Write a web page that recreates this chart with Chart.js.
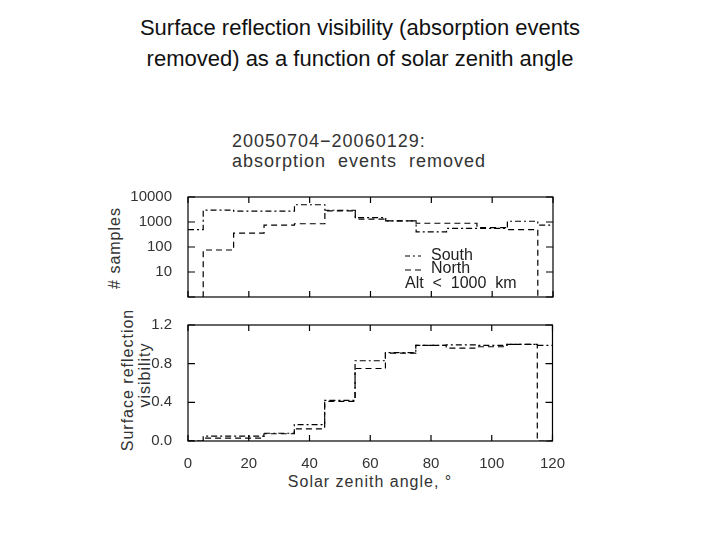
<!DOCTYPE html>
<html><head><meta charset="utf-8">
<script src="https://cdn.jsdelivr.net/npm/chart.js@4.4.0/dist/chart.umd.min.js"></script>
<style>
body{margin:0;width:720px;height:540px;background:#fff;position:relative;font-family:"Liberation Sans",Arial,sans-serif;overflow:hidden}
.t{position:absolute;white-space:nowrap;color:#111}
canvas{position:absolute}
</style></head><body>
<div class="t" style="left:0;width:720px;top:12px;text-align:center;font-size:22px;line-height:31px">Surface reflection visibility (absorption events<br>removed) as a function of solar zenith angle</div>
<div class="t" style="left:232px;top:131px;font-size:18px;line-height:20px;color:#333;letter-spacing:1px">20050704&minus;20060129:<br>absorption&nbsp; events&nbsp; removed</div>
<div class="t" style="left:115px;top:248px;font-size:16px;color:#333;transform:translate(-50%,-50%) rotate(-90deg);letter-spacing:1px"># samples</div>
<div class="t" style="left:128px;top:380px;font-size:16px;color:#333;transform:translate(-50%,-50%) rotate(-90deg);letter-spacing:1px">Surface reflection</div>
<div class="t" style="left:145px;top:375px;font-size:16px;color:#333;transform:translate(-50%,-50%) rotate(-90deg);letter-spacing:1px">visibility</div>
<div class="t" style="left:370px;top:482px;font-size:16px;color:#333;transform:translate(-50%,-50%);letter-spacing:1px">Solar zenith angle, &deg;</div>
<canvas id="c1" width="440" height="134" style="left:118px;top:180px;width:440px;height:134px"></canvas>
<canvas id="c2" width="453" height="163" style="left:118px;top:308px;width:453px;height:163px"></canvas>
<script>
const binEdges=[0,5,15,25,35,45,55,65,75,85,95,105,115,120];
const southCounts=[500,3000,2700,2700,4900,2950,1500,1100,400,560,560,1070,750];
const northCounts=[0.1,76,360,750,850,2800,1300,1100,890,890,600,500,0.1];
const southVis=[0.0,0.05,0.05,0.08,0.17,0.42,0.83,0.915,0.99,0.995,0.99,1.0,0.99];
const northVis=[0.0,0.03,0.03,0.075,0.125,0.41,0.75,0.91,0.99,0.96,0.975,1.0,0.0];
const xTicks=[0,20,40,60,80,100,120];
const countTicks=[1,10,100,1000,10000];
const visTicks=[0,0.2,0.4,0.6,0.8,1.0,1.2];

function steps(vals){const d=vals.map((v,i)=>({x:binEdges[i],y:v}));d.push({x:120,y:vals[vals.length-1]});return d;}
const font={family:"Liberation Sans",size:15};
const boxPlugin={id:'box',afterDraw(ch){const a=ch.chartArea,c=ch.ctx;c.save();c.strokeStyle='#000';c.lineWidth=1.2;c.strokeRect(a.left,a.top,a.right-a.left,a.bottom-a.top);
 const xs=ch.scales.x,ys=ch.scales.y;c.beginPath();
 xTicks.forEach(t=>{const p=xs.getPixelForValue(t);c.moveTo(p,a.bottom);c.lineTo(p,a.bottom-6);c.moveTo(p,a.top);c.lineTo(p,a.top+6);});
 ys.ticks.forEach(t=>{const p=ys.getPixelForValue(t.value);c.moveTo(a.left,p);c.lineTo(a.left+7,p);c.moveTo(a.right,p);c.lineTo(a.right-7,p);});
 c.stroke();
 if(ch.canvas.id==='c1'){c.fillStyle='#222';c.font='16px "Liberation Sans"';c.lineWidth=1;
  c.setLineDash([5,3,2,3]);c.beginPath();c.moveTo(287,76);c.lineTo(303,76);c.stroke();
  c.setLineDash([6,4]);c.beginPath();c.moveTo(287,90);c.lineTo(303,90);c.stroke();c.setLineDash([]);
  c.fillText('South',313,80);c.fillText('North',313,93);c.fillText('Alt  <  1000  km',287,108);}
 c.restore();}};
function mkDs(vals,dash){return {data:steps(vals),stepped:'before',borderColor:'#000',borderWidth:1.2,borderDash:dash,pointRadius:0,fill:false};}
const tickCol='#333';
new Chart(document.getElementById('c1'),{type:'line',
 data:{datasets:[mkDs(southCounts,[6,3,2,3]),mkDs(northCounts,[6,4])]},
 options:{animation:false,responsive:false,layout:{padding:{top:4,right:5,bottom:0}},plugins:{legend:{display:false},tooltip:{enabled:false}},
 scales:{x:{type:'linear',min:0,max:120,display:false},
  y:{type:'logarithmic',min:1,max:10000,afterBuildTicks:s=>{s.ticks=countTicks.map(v=>({value:v}));},afterFit:s=>{s.width=70;},
   grid:{display:false},border:{display:false},ticks:{color:tickCol,font,padding:8,callback:v=>v===1?'':String(v)}}}},
 plugins:[boxPlugin]});
new Chart(document.getElementById('c2'),{type:'line',
 data:{datasets:[mkDs(southVis,[6,3,2,3]),mkDs(northVis,[6,4])]},
 options:{animation:false,responsive:false,layout:{padding:{top:5,right:5,bottom:0}},plugins:{legend:{display:false},tooltip:{enabled:false}},
 scales:{x:{type:'linear',min:0,max:120,afterBuildTicks:s=>{s.ticks=xTicks.map(v=>({value:v}));},afterFit:s=>{s.height=30;},
   grid:{display:false},border:{display:false},ticks:{color:tickCol,font,padding:6}},
  y:{type:'linear',min:0,max:1.2,afterBuildTicks:s=>{s.ticks=visTicks.map(v=>({value:v}));},afterFit:s=>{s.width=70;},
   grid:{display:false},border:{display:false},ticks:{color:tickCol,font,padding:8,callback:v=>v.toFixed(1)}}}},
 plugins:[boxPlugin]});
</script></body></html>
